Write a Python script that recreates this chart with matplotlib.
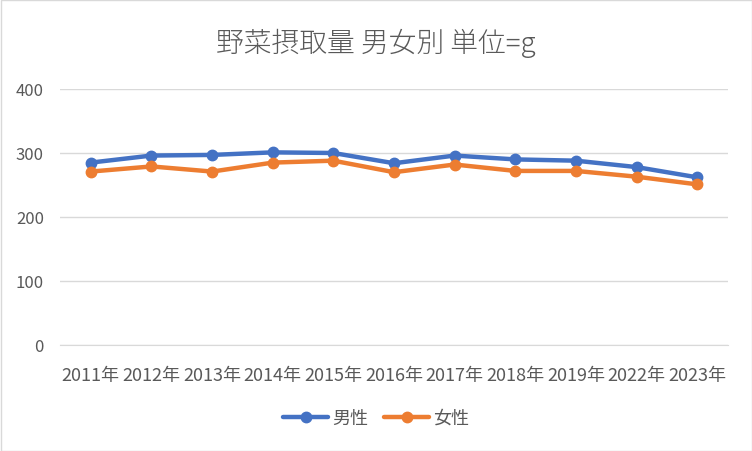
import matplotlib.pyplot as plt
from matplotlib.patches import Rectangle

plt.rcParams['font.family'] = ['Noto Sans CJK JP', 'DejaVu Sans']

years = ['2011年', '2012年', '2013年', '2014年', '2015年', '2016年',
         '2017年', '2018年', '2019年', '2022年', '2023年']
male = [285, 296, 297, 301, 300, 284, 296, 290, 288, 278, 262]
female = [271, 279, 271, 285, 288, 270, 282, 272, 272, 263, 251]
yticks = [0, 100, 200, 300, 400]

grey = '#595959'

fig = plt.figure(figsize=(7.52, 4.52), dpi=100)
ax = fig.add_axes([60.5 / 752, 1 - 346 / 452, 667 / 752, 256 / 452])

x = range(len(years))
ax.plot(x, male, color='#4472C4', lw=3.2, marker='o', ms=7.5, label='男性',
        solid_capstyle='round', zorder=3)
ax.plot(x, female, color='#ED7D31', lw=3.2, marker='o', ms=7.5, label='女性',
        solid_capstyle='round', zorder=3)

ax.set_xlim(-0.5, len(years) - 0.5)
ax.set_ylim(0, 400)
ax.set_yticks(yticks)
ax.set_xticks(list(x))
ax.set_xticklabels(years)
ax.grid(axis='y', color='#d9d9d9', lw=1)
ax.set_axisbelow(True)
for s in ['top', 'right', 'left']:
    ax.spines[s].set_visible(False)
ax.spines['bottom'].set_color('#d9d9d9')
ax.tick_params(length=0, labelcolor=grey)
ax.tick_params(axis='y', pad=12, labelsize=12)
ax.tick_params(axis='x', pad=15, labelsize=13)

fig.text(0.5, 1 - 43 / 452, '野菜摂取量 男女別 単位=g', ha='center', va='center',
         fontsize=20, color=grey, fontweight='light')

leg = fig.legend(loc='center', bbox_to_anchor=(0.5, 1 - 419 / 452), ncol=2,
                 frameon=False, fontsize=13, labelcolor=grey, handlelength=2.5,
                 columnspacing=0.9, handletextpad=0.2)

fig.patches.append(Rectangle((0.5 / 752, 0.5 / 452), 751 / 752, 451 / 452,
                             transform=fig.transFigure, fill=False,
                             edgecolor='#d9d9d9', lw=1))

fig.savefig('out.png', dpi=100)
